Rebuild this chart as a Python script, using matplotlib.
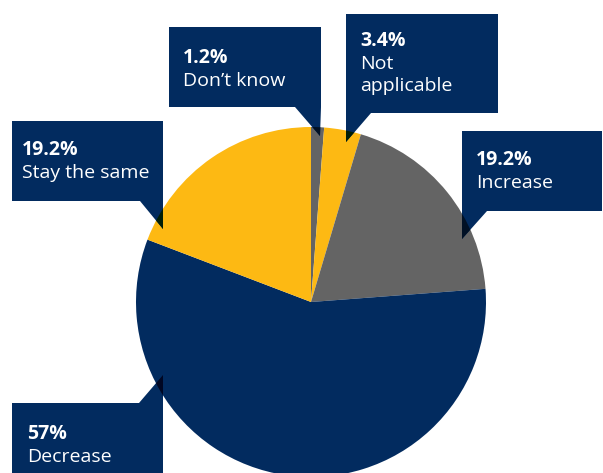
import numpy as np
import matplotlib.pyplot as plt
from matplotlib.patches import Polygon, Wedge
from matplotlib.colors import to_rgb

## Survey answers, pie with callout boxes

labels = ["Don\u2019t know", "Not\napplicable", "Increase", "Decrease", "Stay the same"]
pct_text = ["1.2%", "3.4%", "19.2%", "57%", "19.2%"]
shares = [1.2, 3.4, 19.2, 57.0, 19.2]

NAVY = "#022b5f"
YELLOW = "#fdb913"
GREY = "#646464"
slice_colors = [GREY, YELLOW, GREY, NAVY, YELLOW]

W, H = 603, 473
plt.rcParams['font.family'] = ['Open Sans', 'DejaVu Sans']

fig = plt.figure(figsize=(W / 100, H / 100), dpi=100)
ax = fig.add_axes([0, 0, 1, 1])

def py(y):
    # pixel rows run downward, axes y runs upward
    return H - y

cx, cy, r = 311, py(302), 175
wedges, _ = ax.pie(shares, colors=slice_colors, startangle=90, counterclock=False,
                   center=(cx, cy), radius=r, frame=True,
                   wedgeprops=dict(linewidth=0, antialiased=True))

# callout boxes: rectangle corners, pointer triangle, text origin
boxes = [
    dict(rect=(169, 27, 321, 107), tri=[(295, 107), (321, 107), (320, 136)], txt=(183, 63)),
    dict(rect=(346, 14, 498, 113), tri=[(346, 113), (371, 113), (346, 142)], txt=(360, 46)),
    dict(rect=(462, 131, 602, 211), tri=[(462, 211), (487, 211), (462, 239)], txt=(476, 165)),
    dict(rect=(12, 403, 163, 480), tri=[(139, 403), (163, 403), (163, 375)], txt=(27, 439)),
    dict(rect=(12, 121, 163, 201), tri=[(140, 201), (163, 201), (163, 229)], txt=(22, 155)),
]

navy_rgb = np.array(to_rgb(NAVY))
for b, pct, lab in zip(boxes, pct_text, labels):
    x0, y0, x1, y1 = b['rect']
    ax.add_patch(Polygon([(x0, py(y0)), (x1, py(y0)), (x1, py(y1)), (x0, py(y1))],
                         closed=True, facecolor=NAVY, edgecolor='none', zorder=3))
    tri = Polygon([(x, py(y)) for x, y in b['tri']], closed=True,
                  facecolor=NAVY, edgecolor='none', zorder=3)
    ax.add_patch(tri)
    # pointer tip darkens the slice beneath it (multiply blend)
    for w, c in zip(wedges, slice_colors):
        mult = tuple(navy_rgb * np.array(to_rgb(c)))
        overlay = Wedge(w.center, w.r, w.theta1, w.theta2, facecolor=mult,
                        edgecolor='none', zorder=4)
        ax.add_patch(overlay)
        overlay.set_clip_path(tri)
    tx, ty = b['txt']
    ax.text(tx, py(ty), pct, color='white', fontsize=14, fontweight='bold',
            va='baseline', ha='left', zorder=5)
    for i, line in enumerate(lab.split("\n")):
        ax.text(tx, py(ty + 23 + 22 * i), line, color='white', fontsize=14,
                va='baseline', ha='left', zorder=5)

ax.set_xlim(0, W)
ax.set_ylim(0, H)
ax.set_aspect('auto')
ax.axis('off')

fig.savefig("out.png", dpi=100)
